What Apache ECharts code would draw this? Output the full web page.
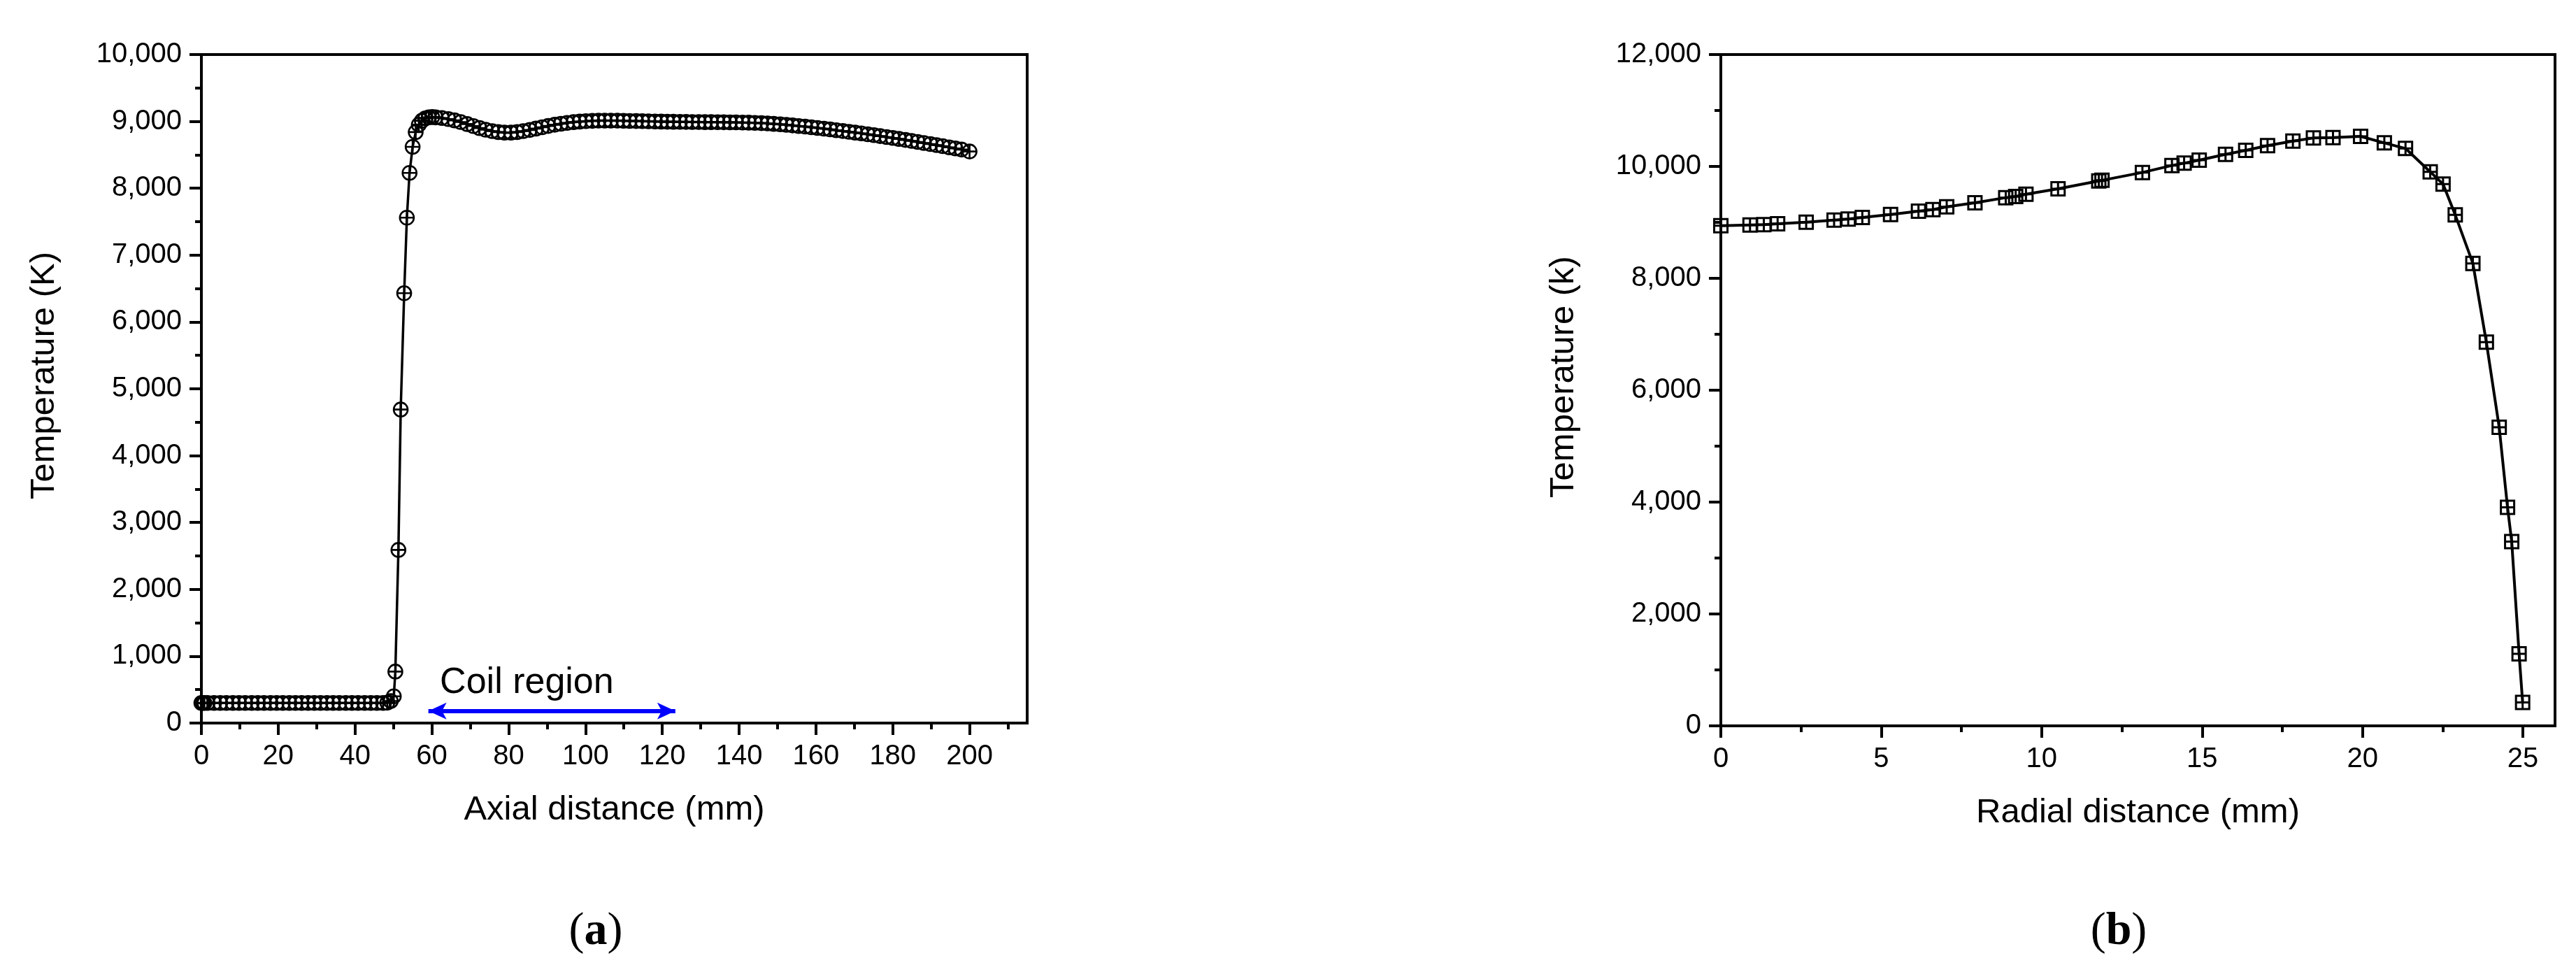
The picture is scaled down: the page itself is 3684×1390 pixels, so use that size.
<!DOCTYPE html>
<html>
<head>
<meta charset="utf-8">
<title>Temperature profiles</title>
<script src="https://cdn.jsdelivr.net/npm/echarts@6/dist/echarts.min.js"></script>
<style>
  html, body { margin: 0; padding: 0; background: #fff; }
  #main { width: 3684px; height: 1390px; }
</style>
</head>
<body>
<div id="main"></div>
<script>
// (a) axial temperature profile
var axialX = [0, 0.4, 0.8, 1.6, 3.3, 4.9, 6.5, 8.2, 9.8, 11.4, 13.1, 14.7, 16.3, 18.0, 19.6, 21.2, 22.9, 24.5,
  26.1, 27.8, 29.4, 31.0, 32.7, 34.3, 35.9, 37.6, 39.2, 40.8, 42.5, 44.1, 45.7, 47.3, 48.4, 49.3,
  50.1, 50.5, 51.3, 51.9, 52.8, 53.5, 54.2, 55.0, 55.8, 56.6, 57.4, 58.3, 59.2, 60.1,
  61.0, 62.6, 64.3, 65.9, 67.5, 69.2, 70.8, 72.4, 74.0, 75.7, 77.3, 78.9, 80.6, 82.2, 83.8, 85.5,
  87.1, 88.7, 90.3, 92.0, 93.6, 95.2, 96.9, 98.5, 100.1, 101.8, 103.4, 105.0, 106.6, 108.3, 109.9,
  111.5, 113.2, 114.8, 116.4, 118.1, 119.7, 121.3, 122.9, 124.6, 126.2, 127.8, 129.5, 131.1, 132.7,
  134.4, 136.0, 137.6, 139.2, 140.9, 142.5, 144.1, 145.8, 147.4, 149.0, 150.7, 152.3, 153.9, 155.5,
  157.2, 158.8, 160.4, 162.1, 163.7, 165.3, 167.0, 168.6, 170.2, 171.8, 173.5, 175.1, 176.7, 178.4,
  180.0, 181.6, 183.3, 184.9, 186.5, 188.1, 189.8, 191.4, 193.0, 194.7, 196.3, 197.9, 200.0];
var axialT = [300, 300, 300, 300, 300, 300, 300, 300, 300, 300, 300, 300, 300, 300, 300, 300, 300, 300,
  300, 300, 300, 300, 300, 300, 300, 300, 300, 300, 300, 300, 300, 300, 305, 330,
  400, 770, 2590, 4690, 6430, 7560, 8230, 8620, 8840, 8950, 9010, 9045, 9060, 9065,
  9060, 9050, 9035, 9015, 8990, 8960, 8930, 8900, 8875, 8855, 8840, 8832, 8832, 8840, 8855, 8872,
  8892, 8912, 8932, 8950, 8965, 8978, 8989, 8997, 9003, 9008, 9011, 9012, 9012, 9011, 9009,
  9007, 9005, 9003, 9001, 8999, 8997, 8995, 8994, 8993, 8992, 8991, 8990, 8989, 8989,
  8988, 8987, 8986, 8985, 8983, 8981, 8978, 8974, 8969, 8963, 8956, 8948, 8940, 8931,
  8922, 8912, 8902, 8891, 8880, 8868, 8856, 8844, 8832, 8820, 8807, 8794, 8780, 8766,
  8752, 8738, 8723, 8708, 8693, 8677, 8661, 8645, 8629, 8612, 8596, 8579, 8550];

// (b) radial temperature profile
var radialX = [0, 0.91, 1.34, 1.77, 2.66, 3.53, 3.97, 4.41, 5.29, 6.16, 6.61, 7.04, 7.92, 8.88, 9.19, 9.51,
  10.51, 11.78, 11.88, 13.14, 14.06, 14.44, 14.91, 15.73, 16.36, 17.04, 17.83, 18.47, 19.08, 19.94,
  20.68, 21.34, 22.11, 22.51, 22.89, 23.44, 23.86, 24.26, 24.52, 24.65, 24.88, 24.99];
var radialT = [8941, 8954, 8960, 8975, 9004, 9041, 9058, 9087, 9142, 9200, 9229, 9279, 9350, 9442, 9463, 9504,
  9600, 9740, 9752, 9892, 10017, 10058, 10112, 10216, 10287, 10371, 10454, 10508, 10517, 10537,
  10421, 10321, 9904, 9683, 9133, 8267, 6858, 5337, 3905, 3294, 1289, 420];

// tick labels
var axialTicks = [0, 20, 40, 60, 80, 100, 120, 140, 160, 180, 200];
var axialMinor = [10, 30, 50, 70, 90, 110, 130, 150, 170, 190, 210];
var radialTicks = [0, 5, 10, 15, 20, 25];
var radialMinor = [2.5, 7.5, 12.5, 17.5, 22.5];

// coil region annotation (mm, K)
var coilArrowX = [59.1, 123.4];
var coilArrowT = 180;
var coilLabelAt = [62.1, 600];

var FONT = '"Liberation Sans", Arial, sans-serif';
var SERIF = '"Liberation Serif", serif';
var black = '#000';

function pairs(xs, ys) {
  return xs.map(function (x, i) { return [x, ys[i]]; });
}
function thousands(v) { return Number(v).toLocaleString('en-US'); }

function mainX(grid, max, ticks, name) {
  return {
    gridIndex: grid, type: 'value', position: 'bottom', min: 0, max: max,
    name: name, nameLocation: 'middle', nameGap: 100,
    nameTextStyle: { fontSize: 49, color: black, fontFamily: FONT },
    axisLine: { onZero: false, lineStyle: { color: black, width: 4 } },
    axisTick: { customValues: ticks, length: 17, lineStyle: { color: black, width: 4 } },
    axisLabel: { customValues: ticks, margin: 28, fontSize: 40, color: black, fontFamily: FONT },
    splitLine: { show: false }
  };
}
function minorX(grid, max, ticks) {
  return {
    gridIndex: grid, type: 'value', position: 'bottom', min: 0, max: max,
    axisLine: { show: false, onZero: false },
    axisTick: { customValues: ticks, length: 9, lineStyle: { color: black, width: 4 } },
    axisLabel: { show: false },
    splitLine: { show: false }
  };
}
function yAx(grid, max, interval, name) {
  return {
    gridIndex: grid, type: 'value', position: 'left', min: 0, max: max, interval: interval,
    name: name, nameLocation: 'middle', nameGap: 200,
    nameTextStyle: { fontSize: 49, color: black, fontFamily: FONT, padding: [0, 0, 0, 38] },
    axisLine: { onZero: false, lineStyle: { color: black, width: 4 } },
    axisTick: { length: 17, lineStyle: { color: black, width: 4 } },
    minorTick: { show: true, splitNumber: 2, length: 9, lineStyle: { color: black, width: 4 } },
    axisLabel: { margin: 28, fontSize: 40, color: black, fontFamily: FONT, formatter: thousands },
    splitLine: { show: false }
  };
}
function panelTag(letter, x) {
  return {
    type: 'text', x: x, y: 1333,
    style: {
      text: '{p|(}{b|' + letter + '}{p|)}', align: 'center', verticalAlign: 'middle',
      rich: {
        p: { fontSize: 66, fontFamily: SERIF, fill: black },
        b: { fontSize: 66, fontWeight: 'bold', fontFamily: SERIF, fill: black }
      }
    }
  };
}

var chart = echarts.init(document.getElementById('main'));
chart.setOption({
  animation: false,
  backgroundColor: '#fff',
  grid: [
    { left: 288, top: 78, width: 1181, height: 956, show: true, borderColor: black, borderWidth: 4 },
    { left: 2461, top: 78, width: 1193, height: 960, show: true, borderColor: black, borderWidth: 4 }
  ],
  xAxis: [
    mainX(0, 215, axialTicks, 'Axial distance (mm)'),
    minorX(0, 215, axialMinor),
    mainX(1, 26, radialTicks, 'Radial distance (mm)'),
    minorX(1, 26, radialMinor)
  ],
  yAxis: [
    yAx(0, 10000, 1000, 'Temperature (K)'),
    yAx(1, 12000, 2000, 'Temperature (k)')
  ],
  series: [
    {
      type: 'line', xAxisIndex: 0, yAxisIndex: 0, clip: false, showAllSymbol: true,
      data: pairs(axialX, axialT),
      symbol: 'path://M10,0A10,10,0,1,1,-10,0A10,10,0,1,1,10,0ZM-10,0L10,0M0,-10L0,10',
      symbolSize: 20,
      itemStyle: { color: 'rgba(0,0,0,0)', borderColor: black, borderWidth: 2.6 },
      lineStyle: { color: black, width: 3.5 },
      markLine: {
        silent: true, symbol: ['arrow', 'arrow'], symbolSize: [18, 26],
        lineStyle: { color: '#0000ff', width: 6, type: 'solid' },
        label: { show: false },
        data: [[{ coord: [coilArrowX[0], coilArrowT] }, { coord: [coilArrowX[1], coilArrowT] }]]
      },
      markPoint: {
        silent: true,
        data: [{
          coord: coilLabelAt, symbol: 'circle', symbolSize: 0,
          label: { show: true, position: 'right', distance: 0, formatter: 'Coil region',
                   fontSize: 52, color: black, fontFamily: FONT }
        }]
      }
    },
    {
      type: 'line', xAxisIndex: 2, yAxisIndex: 1, clip: false, showAllSymbol: true,
      data: pairs(radialX, radialT),
      symbol: 'path://M-10,-10L10,-10L10,10L-10,10ZM-10,0L10,0M0,-10L0,10',
      symbolSize: 19,
      itemStyle: { color: 'rgba(0,0,0,0)', borderColor: black, borderWidth: 3 },
      lineStyle: { color: black, width: 4 }
    }
  ],
  graphic: [panelTag('a', 852), panelTag('b', 3030)]
});
</script>
</body>
</html>
